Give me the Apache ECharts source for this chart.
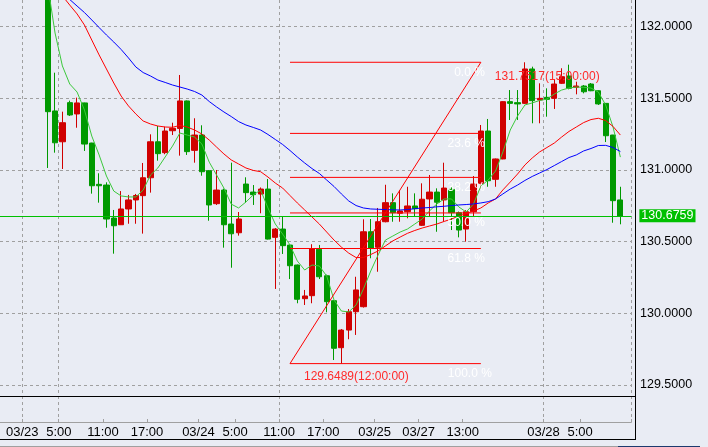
<!DOCTYPE html>
<html><head><meta charset="utf-8">
<script src="https://cdn.jsdelivr.net/npm/echarts@6/dist/echarts.min.js"></script>
<style>html,body{margin:0;padding:0;background:#e9ecf4;}#c{width:708px;height:447px;}</style>
</head><body><div id="c"></div>
<script>
// ---- time axis ----
const days = [['03/22',21,23],['03/23',0,23],['03/24',0,23],['03/25',0,5],['03/27',7,23],['03/28',0,11]];
const categories = [];
days.forEach(([d,a,b]) => { for (let h=a; h<=b; h++) categories.push(d+' '+String(h).padStart(2,'0')+':00'); });
const firstBar = '03/23 03:00';
const tickLabels = [['03/23 00:00','03/23'],['03/23 05:00','5:00'],['03/23 11:00','11:00'],['03/23 17:00','17:00'],
  ['03/24 00:00','03/24'],['03/24 05:00','5:00'],['03/24 11:00','11:00'],['03/24 17:00','17:00'],
  ['03/25 00:00','03/25'],['03/27 07:00','03/27'],['03/27 13:00','13:00'],['03/28 00:00','03/28'],['03/28 05:00','5:00']];
const gridLineAt = ['03/23 00:00','03/23 05:00','03/24 11:00','03/28 00:00'];

// ---- price axis ----
const yMin = 129.4229, yMax = 132.1863;
const bid = 130.6759;

// ---- candles (from firstBar on) ----
const open = [132.28,131.412,131.197,131.47,131.391,131.468,131.188,130.900,130.895,130.665,
130.618,130.728,130.791,130.821,130.946,131.197,131.121,131.274,131.29,131.482,
131.137,131.244,130.995,130.765,130.86,130.623,130.562,130.902,130.846,130.832,
130.867,130.53,130.588,130.476,130.337,130.102,130.123,130.447,130.262,130.088,
129.76,129.883,130.011,130.046,130.569,130.461,130.639,130.772,130.698,130.709,
130.749,130.614,130.798,130.846,130.791,130.865,130.702,130.588,130.709,130.907,
131.272,130.935,131.077,131.477,131.47,131.465,131.705,131.489,131.507,131.5,
131.605,131.656,131.577,131.586,131.6,131.553,131.465,131.244,130.791];
const close = [131.407,131.19,131.33,131.384,131.468,131.181,130.89,130.89,130.658,130.611,
130.728,130.791,130.822,130.946,131.197,131.114,131.272,131.291,131.482,131.128,
131.244,130.988,130.756,130.86,130.618,130.555,130.658,130.842,130.828,130.867,
130.518,130.588,130.472,130.332,130.098,130.121,130.449,130.255,130.081,129.756,
129.883,130.011,130.163,130.569,130.454,130.639,130.772,130.702,130.714,130.749,
130.73,130.796,130.846,130.775,130.874,130.702,130.581,130.709,130.902,131.272,
130.925,131.077,131.477,131.465,131.461,131.705,131.484,131.5,131.493,131.6,
131.651,131.57,131.586,131.546,131.553,131.461,131.239,130.786,130.6759];
const low = [131.014,131.121,131.007,131.377,131.295,131.133,130.835,130.772,130.597,130.416,
130.616,130.625,130.625,130.556,130.842,131.065,131.11,131.244,131.1,131.105,
131.051,130.96,130.646,130.756,130.458,130.318,130.542,130.772,130.756,130.698,
130.515,130.17,130.414,130.239,130.07,130.058,130.07,130.239,130.007,129.674,
129.6489,129.819,129.849,130.04,130.384,130.29,130.635,130.639,130.639,130.663,
130.674,130.609,130.674,130.569,130.639,130.581,130.53,130.5,130.674,130.872,
130.883,130.883,131.075,131.349,131.349,131.46,131.326,131.326,131.372,131.426,
131.6,131.563,131.528,131.535,131.55,131.454,131.195,130.632,130.621];
const high = [132.32,131.679,131.407,131.484,131.505,131.47,131.19,130.977,130.914,130.721,
130.853,130.826,130.833,131.049,131.249,131.307,131.302,131.33,131.663,131.485,
131.361,131.312,131.0,131.0,130.87,131.051,130.707,130.949,130.895,130.878,
130.937,130.595,130.674,130.48,130.34,130.163,130.482,130.477,130.27,130.09,
129.89,130.03,130.255,130.656,130.658,130.735,130.897,130.837,130.86,130.883,
130.837,130.907,130.965,130.872,131.051,130.888,130.71,130.72,130.958,131.314,
131.356,131.08,131.48,131.558,131.558,131.7517,131.721,131.605,131.57,131.628,
131.71,131.735,131.616,131.593,131.607,131.556,131.466,131.245,130.883];

// ---- moving averages (from firstBar on) ----
const maFast = [132.291,131.956,131.726,131.6,131.544,131.419,131.237,131.105,130.958,130.853,
130.819,130.812,130.812,130.86,130.965,131.014,131.091,131.167,131.258,131.244,
131.23,131.181,131.055,130.965,130.874,130.762,130.735,130.777,130.826,130.86,
130.735,130.623,130.553,130.477,130.365,130.302,130.337,130.33,130.26,130.093,
130.016,130.009,130.058,130.17,130.295,130.407,130.511,130.539,130.567,130.588,
130.623,130.658,130.714,130.763,130.798,130.798,130.742,130.707,130.763,130.888,
130.93,130.993,131.126,131.279,131.377,131.454,131.468,131.485,131.495,131.53,
131.558,131.572,131.579,131.577,131.572,131.544,131.454,131.3,131.09];
const maMid = [null,null,132.215,132.151,132.089,132.012,131.907,131.803,131.705,131.607,
131.516,131.447,131.391,131.342,131.321,131.307,131.3,131.298,131.311,131.3,
131.279,131.251,131.209,131.16,131.112,131.07,131.042,131.014,130.997,130.988,
130.951,130.909,130.874,130.822,130.77,130.721,130.672,130.623,130.567,130.511,
130.462,130.42,130.389,130.389,130.41,130.435,130.47,130.505,130.532,130.558,
130.578,130.595,130.609,130.623,130.641,130.658,130.679,130.696,130.714,130.735,
130.77,130.798,130.861,130.916,130.972,131.035,131.084,131.126,131.157,131.188,
131.23,131.269,131.3,131.331,131.352,131.361,131.345,131.304,131.244];
const maSlow = [null,null,132.242,132.19,132.144,132.099,132.047,131.994,131.942,131.893,
131.841,131.782,131.719,131.68,131.656,131.628,131.611,131.593,131.579,131.565,
131.548,131.523,131.478,131.44,131.405,131.373,131.338,131.314,131.297,131.279,
131.248,131.213,131.178,131.136,131.091,131.049,131.01,130.976,130.93,130.885,
130.833,130.784,130.752,130.735,130.728,130.726,130.724,130.722,130.721,130.724,
130.73,130.735,130.738,130.743,130.747,130.752,130.756,130.759,130.763,130.77,
130.779,130.798,130.833,130.867,130.895,130.927,130.955,130.979,131.003,131.031,
131.059,131.087,131.105,131.133,131.15,131.171,131.172,131.157,131.129];

// ---- Fibonacci retracement object ----
const fibLow = 129.6489, fibHigh = 131.7517;
const fibStart = '03/24 12:00', fibEnd = '03/27 15:00';
const fibLowTime = '12:00:00', fibHighTime = '15:00:00';
const fibLevels = [0, 23.6, 38.2, 50, 61.8, 100];

// ---- build ----
const FONT = '"Liberation Sans", Arial, sans-serif';
const off = categories.indexOf(firstBar);
const candles = categories.map((c, j) => { const k = j - off; return (k >= 0 && k < open.length) ? [open[k], close[k], low[k], high[k]] : '-'; });
const pad = arr => categories.map((c, j) => { const k = j - off; const v = (k >= 0 && k < arr.length) ? arr[k] : null; return v == null ? '-' : v; });
const labelMap = {}; tickLabels.forEach(([c, t]) => labelMap[c] = t);
const isLabel = (i, v) => labelMap[v] !== undefined;
const isGrid = (i, v) => gridLineAt.includes(v);
const iS = categories.indexOf(fibStart), iE = categories.indexOf(fibEnd);
const fibPrice = l => fibHigh - (fibHigh - fibLow) * l / 100;

const fibSeries = (a, b) => ({type: 'line', data: [a, b], symbol: 'none', showSymbol: false, z: 5, silent: true,
  lineStyle: {color: '#ff0000', width: 1, type: 'solid'}});

const dash = {color: '#a0a0a0', type: [3, 3], width: 1};
const chart = echarts.init(document.getElementById('c'));
const W = 633.56, L = -2.186;
const series = [
  {type: 'candlestick', xAxisIndex: 0, yAxisIndex: 0, data: candles, barWidth: 5.7, clip: true, z: 2,
    itemStyle: {color: '#d00000', color0: '#009900', borderColor: '#d00000', borderColor0: '#009900', borderWidth: 1},
    markLine: {silent: true, symbol: ['none', 'none'], animation: false,
      data: [{yAxis: bid, lineStyle: {color: '#00c000', type: 'solid', width: 1},
        label: {show: true, position: 'end', distance: 8, formatter: bid.toFixed(4), color: '#fff', backgroundColor: '#00c000',
          padding: [0, 2], fontSize: 12.5, lineHeight: 13, fontFamily: FONT}}]}},
  {type: 'line', data: pad(maFast), symbol: 'none', showSymbol: false, z: 3, lineStyle: {color: '#3cc83c', width: 1}},
  {type: 'line', data: pad(maMid), symbol: 'none', showSymbol: false, z: 3, lineStyle: {color: '#ff0000', width: 1}},
  {type: 'line', data: pad(maSlow), symbol: 'none', showSymbol: false, z: 3, lineStyle: {color: '#0000ff', width: 1}},
  fibSeries([iS, fibLow], [iE, fibHigh])
];
fibLevels.forEach(l => series.push(fibSeries([iS, fibPrice(l)], [iE, fibPrice(l)])));

chart.setOption({
  animation: false,
  backgroundColor: '#e9ecf4',
  grid: [{left: L, width: W, top: 0, height: 396}, {left: L, width: W, top: 396, height: 26}],
  xAxis: [
    {type: 'category', gridIndex: 0, data: categories, boundaryGap: true,
      axisLine: {show: false}, axisTick: {show: false}, axisLabel: {show: false},
      splitLine: {show: true, interval: isGrid, lineStyle: dash}},
    {type: 'category', gridIndex: 1, data: categories, boundaryGap: true,
      axisLine: {show: true, lineStyle: {color: '#a0a0a0', width: 1}},
      axisTick: {show: true, inside: true, length: 3, interval: isLabel, lineStyle: {color: '#a0a0a0'}},
      axisLabel: {show: true, interval: isLabel, formatter: v => labelMap[v] || '', margin: 4, fontSize: 13,
        lineHeight: 13, color: '#000', fontFamily: FONT, padding: [0, 7, 0, 0]},
      splitLine: {show: true, interval: isGrid, lineStyle: dash}}
  ],
  yAxis: [
    {type: 'value', gridIndex: 0, position: 'right', offset: 3.6, min: yMin, max: yMax, splitNumber: 5,
      axisLine: {show: false}, axisTick: {show: false},
      axisLabel: {margin: 5, fontSize: 12.5, color: '#000', fontFamily: FONT, formatter: v => v.toFixed(4),
        showMinLabel: false, showMaxLabel: false},
      splitLine: {show: true, showMinLine: false, showMaxLine: false, lineStyle: dash}},
    {type: 'value', gridIndex: 1, show: false}
  ],
  series
});

const P = (i, v) => chart.convertToPixel({gridIndex: 0}, [i, v]);
const g = [];
fibLevels.forEach(l => {
  const [x, y] = P(iE, fibPrice(l));
  g.push({type: 'text', z: 10, x: x + (l === 100 ? 11 : 4), y: y + 10,
    style: {text: l.toFixed(1) + ' %', fill: '#ffffff', font: '12px ' + FONT, align: 'right', verticalAlign: 'middle'}});
});
const [lx, ly] = P(iS, fibLow), [hx, hy] = P(iE, fibHigh);
g.push({type: 'text', z: 10, x: lx + 14, y: ly + 13.5,
  style: {text: fibLow.toFixed(4) + '(' + fibLowTime + ')', fill: '#ff2a2a', font: '12px ' + FONT, align: 'left', verticalAlign: 'middle'}});
g.push({type: 'text', z: 10, x: hx + 14, y: hy + 14.7,
  style: {text: fibHigh.toFixed(4) + '(' + fibHighTime + ')', fill: '#ff2a2a', font: '12px ' + FONT, align: 'left', verticalAlign: 'middle'}});
const line = (x1, y1, x2, y2, c) => ({type: 'line', z: 20, silent: true, shape: {x1, y1, x2, y2}, style: {stroke: c, lineWidth: 1}});
g.push(line(0, 396.5, 636, 396.5, '#000'));
g.push(line(635.5, 0, 635.5, 439.5, '#000'));
g.push(line(0, 439.5, 636, 439.5, '#000'));
g.push(line(0, 446.5, 618, 446.5, '#a0a0a0'));
g.push(line(618, 446.5, 700, 446.5, '#1c3a6e'));
chart.setOption({graphic: g});
</script>
</body></html>
